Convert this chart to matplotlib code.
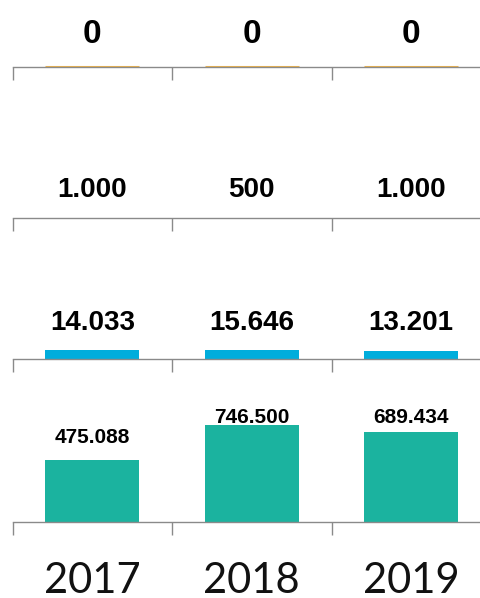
import matplotlib
matplotlib.use("Agg")
import matplotlib.pyplot as plt

# ---- data ----
years = ["2017", "2018", "2019"]
series_top = [0, 0, 0]
series_second = [1000, 500, 1000]
series_third = [14033, 15646, 13201]
series_bottom = [475088, 746500, 689434]

W, H = 481, 598
DPI = 100
plt.rcParams['font.family'] = ['Lato', 'DejaVu Sans']
LABEL_FONT = ['Liberation Sans', 'DejaVu Sans']

fig = plt.figure(figsize=(W / DPI, H / DPI), dpi=DPI)
fig.patch.set_facecolor('white')

GRAY = '#8A8A8A'
LEFT_PX, RIGHT_PX = 12.5, 491.0


def fmt(v):
    return f"{v:,}".replace(",", ".")


def panel(values, baseline_px, cap_px, px_per_unit, gap_px, fs, color,
          edge=None, show_years=False):
    ax = fig.add_axes([LEFT_PX / W, 1 - baseline_px / H,
                       (RIGHT_PX - LEFT_PX) / W, (baseline_px - cap_px) / H])
    ax.set_facecolor('none')
    ymax = (baseline_px - cap_px) / px_per_unit
    x = list(range(len(values)))
    if edge is None:
        ax.bar(x, values, width=0.59, color=color, zorder=1)
    else:
        ax.bar(x, values, width=0.59, color=color, edgecolor=edge,
               linewidth=2.2, zorder=1)
    ax.set_xlim(-0.5, len(values) - 0.5)
    ax.set_ylim(0, ymax)
    for xi, v in zip(x, values):
        y = min(v + gap_px / px_per_unit, ymax)
        ax.text(xi, y, fmt(v), ha='center', va='baseline', fontsize=fs,
                fontweight='bold', color='black', clip_on=False,
                family=LABEL_FONT)
    for s in ['top', 'left', 'right']:
        ax.spines[s].set_visible(False)
    ax.spines['bottom'].set_color(GRAY)
    ax.spines['bottom'].set_linewidth(1.0)
    ax.spines['bottom'].set_zorder(3)
    ax.set_yticks([])
    ax.set_xticks([i - 0.5 for i in range(len(values) + 1)])
    ax.set_xticklabels([])
    ax.tick_params(axis='x', which='major', direction='out', length=9.4,
                   width=1.0, color=GRAY)
    if show_years:
        ax.set_xticks(x, years, minor=True)
        ax.tick_params(axis='x', which='minor', length=0, pad=29,
                       labelsize=30, labelcolor='#111111')
    return ax


panel(series_top, 66.5, 43, 1.0, 23.5, 24, '#F0B54A', edge='#F0B54A')
panel(series_second, 218, 197, 2e-5, 21, 20, '#A5A5A5')
panel(series_third, 359, 330, 6.07e-4, 21, 20, '#00ADDC')
panel(series_bottom, 522, 423, 1.2994e-4, 17, 15, '#1BB39F', show_years=True)

fig.savefig('out.png', dpi=DPI, facecolor='white')
